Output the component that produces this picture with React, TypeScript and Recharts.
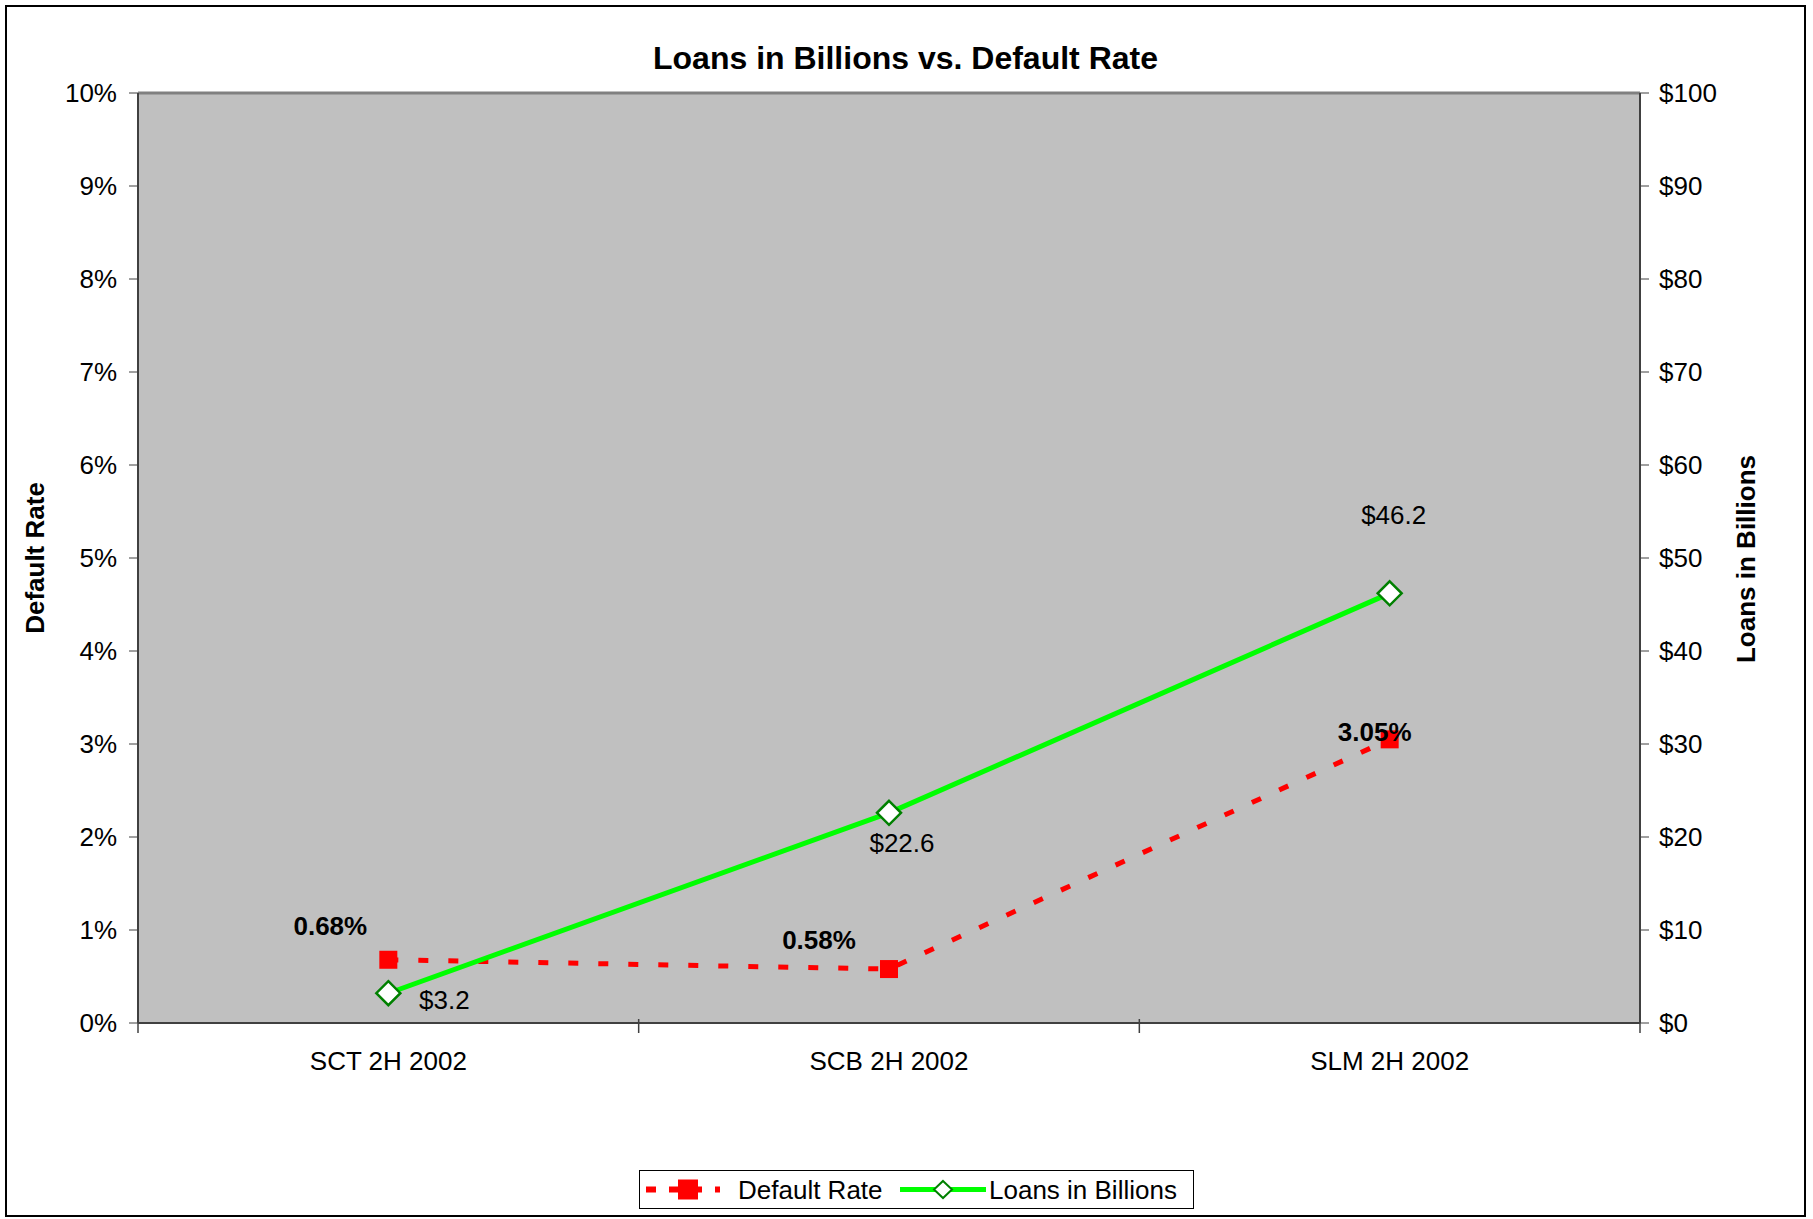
import React from 'react';
import { ComposedChart, Line, XAxis, YAxis, CartesianGrid, ReferenceLine, LabelList } from 'recharts';

const categories = ['SCT 2H 2002', 'SCB 2H 2002', 'SLM 2H 2002'];
const defaultRate = [0.68, 0.58, 3.05]; // percent
const loansBillions = [3.2, 22.6, 46.2];
const rateTicks = [0, 1, 2, 3, 4, 5, 6, 7, 8, 9, 10];
const loanTicks = [0, 10, 20, 30, 40, 50, 60, 70, 80, 90, 100];

const rows = categories.map((name, i) => ({ name, rate: defaultRate[i], loans: loansBillions[i] }));

const FONT = '"Liberation Sans", Arial, sans-serif';
const AXIS_DARK = '#404040';
const W = 1797;
const H = 1208;

// hand placed label offsets (the original has them dragged around per point)
const rateLabelShift = [[-58, -34], [-70, -29], [-15, -7]];
const loanLabelShift = [[56, 7], [13, 30], [4, -78]];

const SquareDot = (props: any) => {
  const { cx, cy, index } = props;
  if (cx == null || cy == null) return null;
  return <rect key={`sq-${index}`} x={cx - 9} y={cy - 9} width={18} height={18} fill="#FF0000" />;
};

const DiamondDot = (props: any) => {
  const { cx, cy, index } = props;
  if (cx == null || cy == null) return null;
  const h = 12;
  return (
    <polygon
      key={`dm-${index}`}
      points={`${cx},${cy - h} ${cx + h},${cy} ${cx},${cy + h} ${cx - h},${cy}`}
      fill="#FFFFFF"
      stroke="#008000"
      strokeWidth={2.5}
    />
  );
};

const RateLabel = (props: any) => {
  const { x, y, value, index } = props;
  const [dx, dy] = rateLabelShift[index] || [0, -20];
  return (
    <text x={x + dx} y={y + dy} textAnchor="middle" dominantBaseline="central" fontSize={26} fontWeight="bold" fill="#000" fontFamily={FONT}>
      {`${Number(value).toFixed(2)}%`}
    </text>
  );
};

const LoanLabel = (props: any) => {
  const { x, y, value, index } = props;
  const [dx, dy] = loanLabelShift[index] || [0, 20];
  return (
    <text x={x + dx} y={y + dy} textAnchor="middle" dominantBaseline="central" fontSize={26} fill="#000" fontFamily={FONT}>
      {`$${Number(value).toFixed(1)}`}
    </text>
  );
};

// category labels centred, tick marks on the band boundaries (Excel style)
const CategoryTick = (props: any) => {
  const { x, y, payload, index, visibleTicksCount } = props;
  const half = payload?.offset ?? 0;
  const last = index === (visibleTicksCount ?? categories.length) - 1;
  return (
    <g>
      <line x1={x - half} x2={x - half} y1={y - 4} y2={y + 10} stroke={AXIS_DARK} strokeWidth={1.5} />
      {last && <line x1={x + half} x2={x + half} y1={y - 4} y2={y + 10} stroke={AXIS_DARK} strokeWidth={1.5} />}
      <text x={x} y={y + 47} textAnchor="middle" fontSize={26} fill="#000" fontFamily={FONT}>
        {payload.value}
      </text>
    </g>
  );
};

const LegendBox = () => (
  <div
    style={{
      position: 'absolute',
      left: 632,
      top: 1163,
      width: 555,
      height: 39,
      border: '1px solid #000',
      boxSizing: 'border-box',
      background: '#fff',
    }}
  >
    <svg width={553} height={37} style={{ display: 'block' }}>
      <line x1={6} x2={80} y1={18.5} y2={18.5} stroke="#FF0000" strokeWidth={6} strokeDasharray="10 13" />
      <rect x={38} y={8.5} width={20} height={20} fill="#FF0000" />
      <text x={98} y={27.5} fontSize={26} fill="#000" fontFamily={FONT}>Default Rate</text>
      <line x1={260} x2={346} y1={18.5} y2={18.5} stroke="#00FF00" strokeWidth={5} />
      <polygon points="303,10 312,18.5 303,27 294,18.5" fill="#fff" stroke="#008000" strokeWidth={2} />
      <text x={349} y={27.5} fontSize={26} fill="#000" fontFamily={FONT}>Loans in Billions</text>
    </svg>
  </div>
);

export default function App() {
  return (
    <div
      style={{
        position: 'absolute',
        left: 5,
        top: 5,
        width: W,
        height: H,
        border: '2px solid #000',
        background: '#fff',
        fontFamily: FONT,
      }}
    >
      <div
        style={{
          position: 'absolute',
          left: 0,
          width: W,
          top: 32,
          textAlign: 'center',
          fontSize: 32,
          fontWeight: 'bold',
          color: '#000',
          lineHeight: '38px',
        }}
      >
        Loans in Billions vs. Default Rate
      </div>
      <div
        style={{
          position: 'absolute',
          left: 28,
          top: 551,
          transform: 'translate(-50%, -50%) rotate(-90deg)',
          fontSize: 26,
          fontWeight: 'bold',
          whiteSpace: 'nowrap',
        }}
      >
        Default Rate
      </div>
      <div
        style={{
          position: 'absolute',
          left: 1739,
          top: 552,
          transform: 'translate(-50%, -50%) rotate(-90deg)',
          fontSize: 26,
          fontWeight: 'bold',
          whiteSpace: 'nowrap',
        }}
      >
        Loans in Billions
      </div>

      <ComposedChart width={W} height={H} data={rows} margin={{ top: 86, right: 0, bottom: 0, left: 0 }}>
        <CartesianGrid yAxisId="left" fill="#C0C0C0" fillOpacity={1} horizontal={false} vertical={false} stroke="none" />
        <XAxis
          dataKey="name"
          scale="band"
          height={H - 1016}
          axisLine={{ stroke: AXIS_DARK, strokeWidth: 2 }}
          tickLine={false}
          tickSize={0}
          tickMargin={0}
          interval={0}
          tick={<CategoryTick />}
        />
        <YAxis
          yAxisId="left"
          width={131}
          domain={[0, 10]}
          ticks={rateTicks}
          interval={0}
          tickFormatter={(v: number) => `${v}%`}
          axisLine={{ stroke: AXIS_DARK, strokeWidth: 2 }}
          tickLine={{ stroke: AXIS_DARK }}
          tickSize={9}
          tickMargin={12}
          tick={{ fill: '#000', fontSize: 26, fontFamily: FONT }}
        />
        <YAxis
          yAxisId="right"
          orientation="right"
          width={W - 1633}
          domain={[0, 100]}
          ticks={loanTicks}
          interval={0}
          tickFormatter={(v: number) => `$${v}`}
          axisLine={{ stroke: AXIS_DARK, strokeWidth: 2 }}
          tickLine={{ stroke: AXIS_DARK }}
          tickSize={9}
          tickMargin={10}
          tick={{ fill: '#000', fontSize: 26, fontFamily: FONT, textAnchor: 'start' }}
        />
        <ReferenceLine yAxisId="left" y={10} stroke="#808080" strokeWidth={3} />
        <Line
          yAxisId="left"
          type="linear"
          dataKey="rate"
          name="Default Rate"
          stroke="#FF0000"
          strokeWidth={5}
          strokeDasharray="10 20"
          dot={<SquareDot />}
          activeDot={false}
          isAnimationActive={false}
        >
          <LabelList dataKey="rate" content={<RateLabel />} />
        </Line>
        <Line
          yAxisId="right"
          type="linear"
          dataKey="loans"
          name="Loans in Billions"
          stroke="#00FF00"
          strokeWidth={5}
          dot={<DiamondDot />}
          activeDot={false}
          isAnimationActive={false}
        >
          <LabelList dataKey="loans" content={<LoanLabel />} />
        </Line>
      </ComposedChart>

      <LegendBox />
    </div>
  );
}
